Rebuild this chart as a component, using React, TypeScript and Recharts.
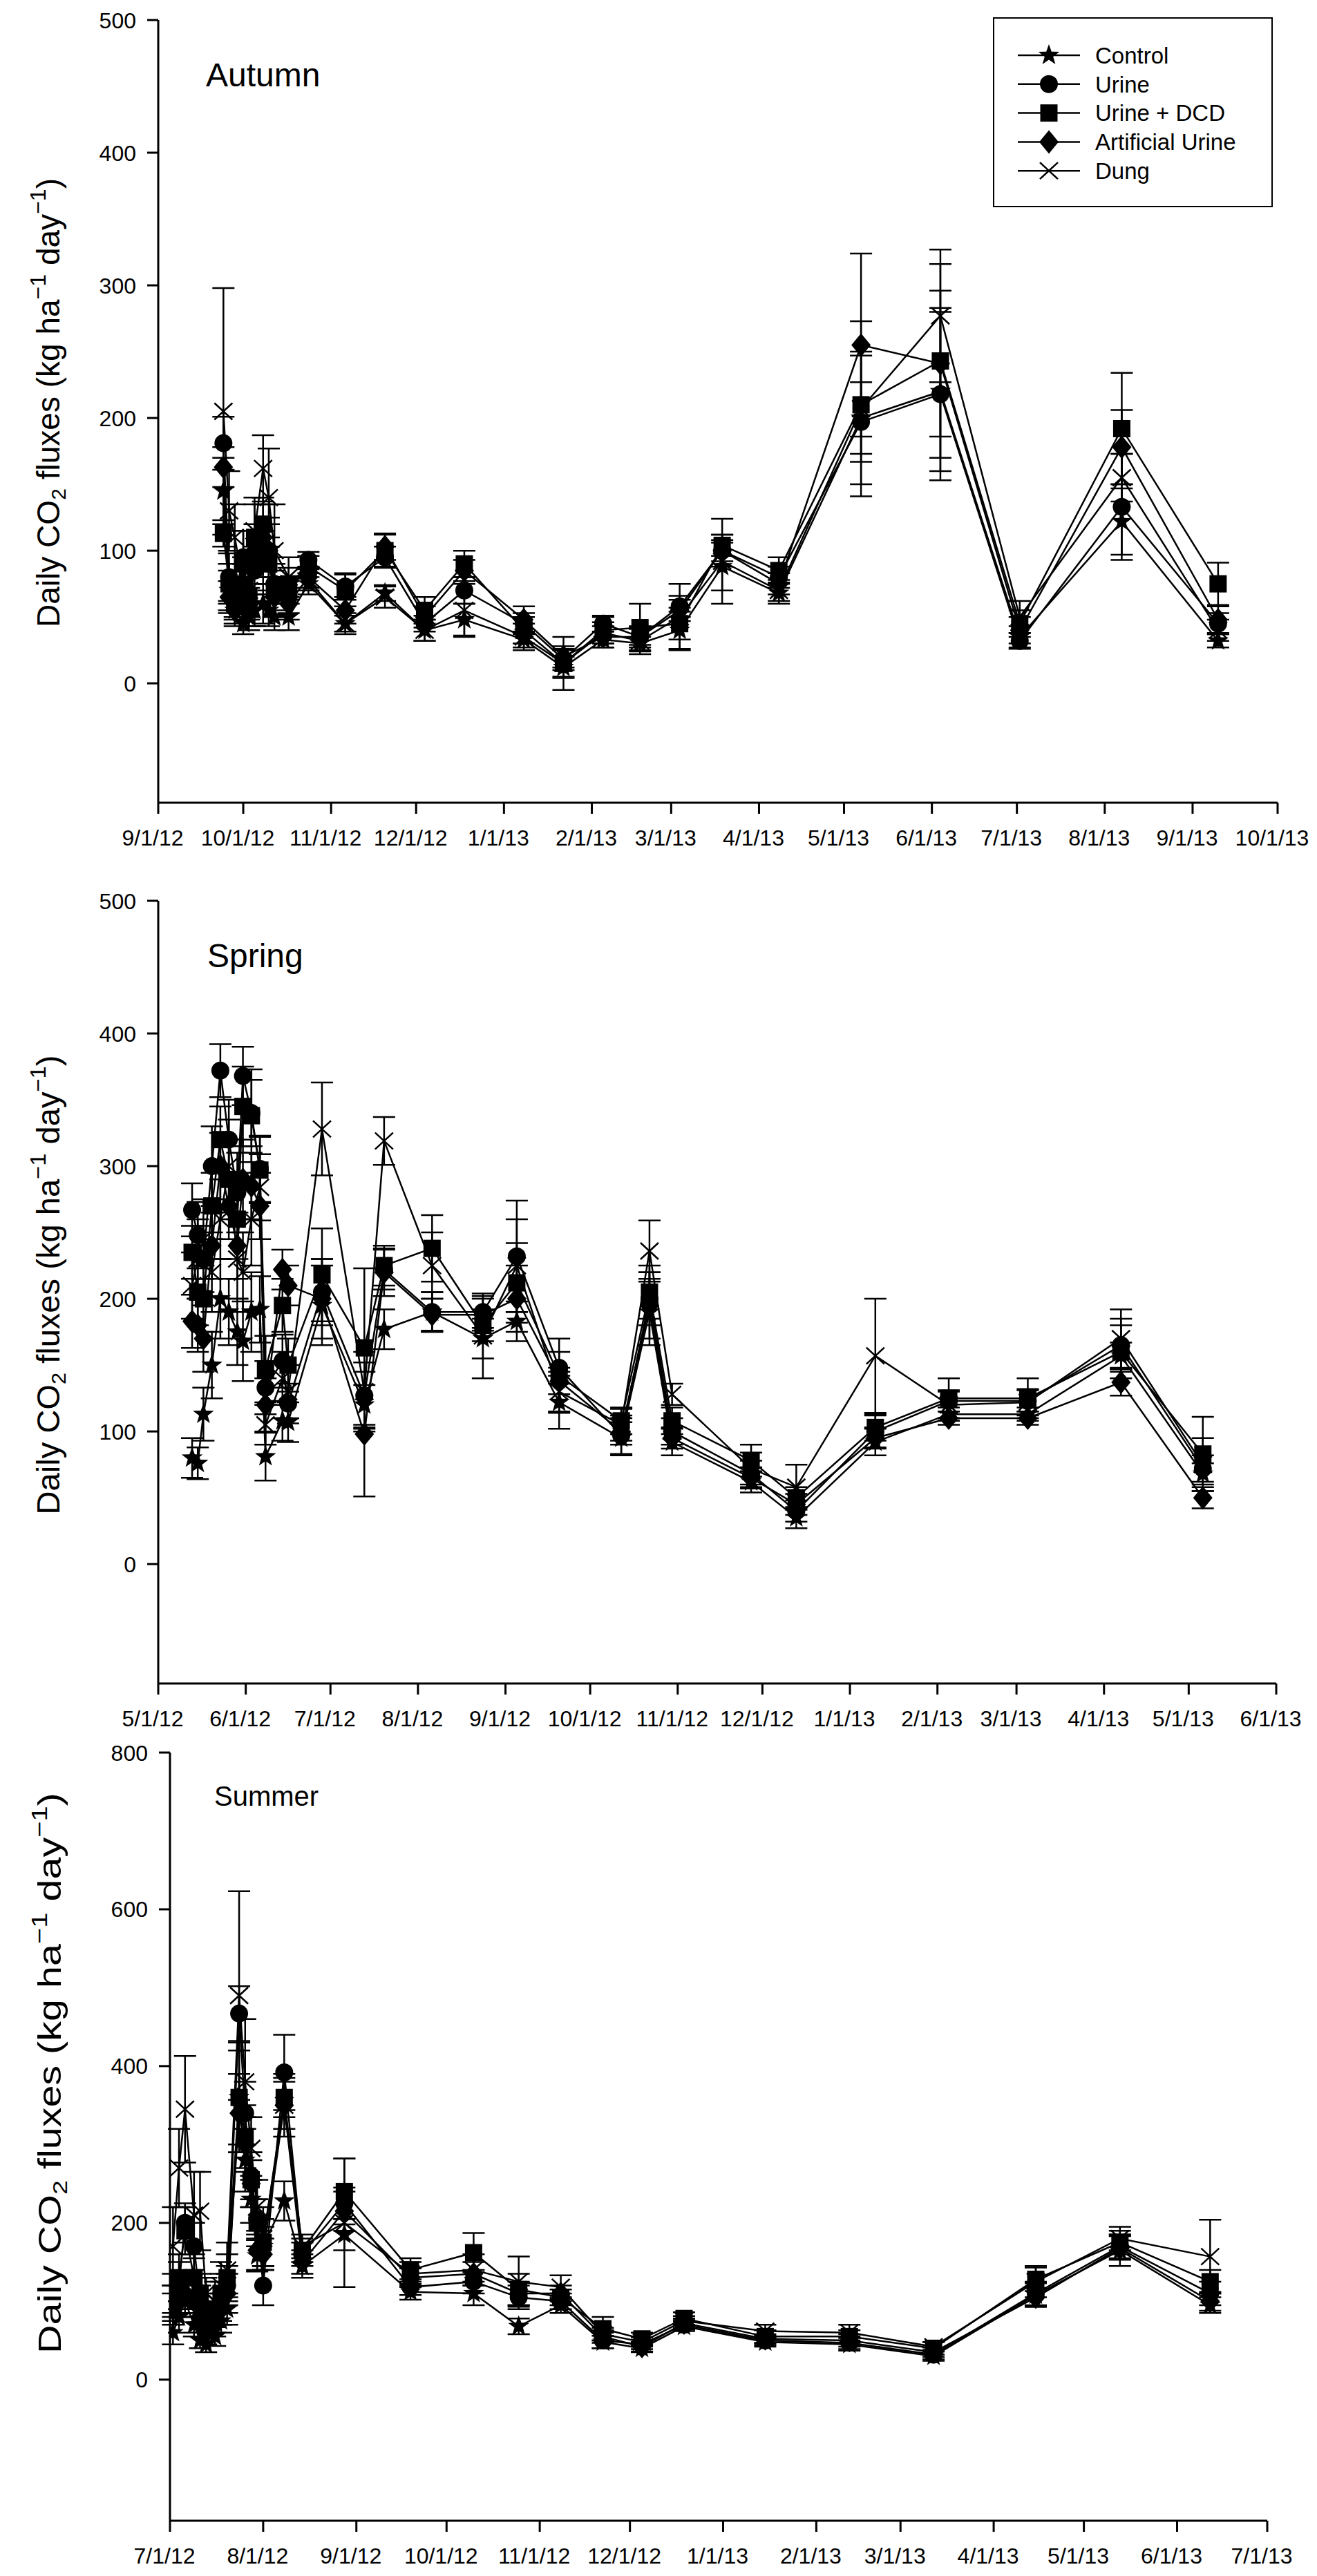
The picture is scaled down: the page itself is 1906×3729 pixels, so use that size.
import React from 'react';
import { LineChart, Line, XAxis, YAxis, ErrorBar, Legend } from 'recharts';

const FONT = '"Liberation Sans", Arial, Helvetica, sans-serif';

const seriesNames = ['Control', 'Urine', 'Urine + DCD', 'Artificial Urine', 'Dung'];
const seriesKeys = ['control', 'urine', 'dcd', 'artificial', 'dung'];
const markerKinds = ['star', 'circle', 'square', 'diamond', 'x'];

// ---------- Autumn ----------
const autumnTicks = ['9/1/12', '10/1/12', '11/1/12', '12/1/12', '1/1/13', '2/1/13', '3/1/13', '4/1/13', '5/1/13', '6/1/13', '7/1/13', '8/1/13', '9/1/13', '10/1/13'];
const autumnDates = ['9/24/12', '9/26/12', '9/28/12', '10/1/12', '10/3/12', '10/5/12', '10/8/12', '10/10/12', '10/12/12', '10/17/12', '10/24/12', '11/6/12', '11/20/12', '12/4/12', '12/18/12', '1/8/13', '1/22/13', '2/5/13', '2/18/13', '3/4/13', '3/19/13', '4/8/13', '5/7/13', '6/4/13', '7/2/13', '8/7/13', '9/10/13'];
const autumnControl = [145, 70, 55, 45, 50, 55, 60, 55, 50, 50, 75, 45, 68, 40, 48, 33, 12, 33, 30, 40, 88, 68, 200, 220, 35, 122, 32];
const autumnUrine = [181, 80, 65, 95, 60, 85, 95, 100, 75, 65, 93, 73, 95, 45, 70, 45, 18, 45, 35, 58, 100, 80, 197, 218, 32, 133, 45];
const autumnDcd = [113, 75, 60, 90, 65, 110, 120, 90, 70, 75, 88, 70, 100, 55, 90, 40, 15, 40, 42, 45, 104, 85, 210, 243, 45, 192, 75];
const autumnArtificial = [163, 65, 55, 75, 55, 100, 110, 100, 65, 60, 80, 55, 103, 50, 85, 48, 20, 35, 35, 55, 100, 75, 255, 241, 40, 178, 48];
const autumnDung = [205, 130, 110, 75, 70, 115, 162, 140, 100, 80, 78, 45, 65, 40, 55, 35, 15, 38, 32, 50, 92, 70, 207, 277, 50, 155, 40];
const autumnControlErr = [25, 15, 12, 8, 10, 12, 15, 12, 10, 10, 8, 8, 6, 8, 12, 6, 8, 6, 5, 14, 18, 8, 50, 60, 8, 25, 5];
const autumnUrineErr = [20, 18, 15, 20, 12, 18, 20, 25, 15, 12, 6, 10, 8, 6, 10, 8, 8, 6, 6, 8, 12, 8, 30, 65, 6, 40, 8];
const autumnDcdErr = [10, 15, 12, 25, 15, 25, 20, 20, 15, 12, 8, 12, 12, 10, 10, 10, 10, 10, 18, 12, 8, 10, 37, 73, 10, 42, 16];
const autumnArtificialErr = [15, 12, 10, 15, 12, 20, 25, 20, 15, 12, 8, 10, 10, 8, 8, 10, 8, 8, 8, 8, 8, 8, 69, 55, 10, 28, 10];
const autumnDungErr = [93, 30, 25, 20, 15, 25, 25, 37, 35, 15, 8, 6, 8, 8, 20, 10, 20, 8, 10, 25, 32, 8, 66, 50, 12, 18, 8];

// ---------- Spring ----------
const springTicks = ['5/1/12', '6/1/12', '7/1/12', '8/1/12', '9/1/12', '10/1/12', '11/1/12', '12/1/12', '1/1/13', '2/1/13', '3/1/13', '4/1/13', '5/1/13', '6/1/13'];
const springDates = ['5/13/12', '5/15/12', '5/17/12', '5/20/12', '5/23/12', '5/26/12', '5/29/12', '5/31/12', '6/3/12', '6/6/12', '6/8/12', '6/14/12', '6/16/12', '6/28/12', '7/13/12', '7/20/12', '8/6/12', '8/24/12', '9/5/12', '9/20/12', '10/12/12', '10/22/12', '10/30/12', '11/27/12', '12/13/12', '1/10/13', '2/5/13', '3/5/13', '4/7/13', '5/6/13'];
const springControl = [80, 76, 113, 150, 200, 190, 175, 168, 190, 192, 81, 108, 107, 195, 120, 177, 190, 170, 183, 122, 95, 190, 92, 62, 35, 92, 113, 113, 157, 68];
const springUrine = [267, 248, 230, 300, 372, 320, 280, 368, 340, 298, 133, 153, 121, 205, 127, 222, 190, 190, 232, 148, 97, 200, 100, 68, 40, 100, 123, 123, 165, 72];
const springDcd = [235, 205, 200, 270, 320, 290, 260, 345, 338, 297, 147, 195, 150, 218, 163, 225, 238, 180, 212, 142, 108, 205, 108, 78, 50, 103, 125, 125, 160, 83];
const springArtificial = [183, 180, 170, 240, 300, 270, 240, 290, 285, 270, 120, 222, 210, 200, 98, 220, 188, 188, 200, 138, 100, 195, 95, 65, 45, 95, 110, 110, 137, 50];
const springDung = [210, 230, 245, 220, 260, 300, 230, 220, 260, 284, 105, 140, 130, 328, 130, 319, 225, 172, 225, 130, 105, 236, 128, 72, 58, 157, 120, 122, 170, 75];
const springControlErr = [15, 12, 20, 25, 30, 25, 25, 30, 30, 25, 18, 15, 15, 30, 15, 15, 15, 15, 15, 20, 12, 25, 10, 8, 8, 10, 5, 5, 10, 8];
const springUrineErr = [20, 25, 25, 30, 20, 30, 30, 22, 25, 25, 20, 20, 15, 25, 25, 15, 15, 12, 42, 12, 15, 20, 10, 10, 8, 12, 8, 8, 20, 10];
const springDcdErr = [20, 25, 25, 25, 25, 30, 30, 30, 35, 25, 25, 20, 20, 35, 60, 15, 25, 12, 30, 28, 10, 20, 10, 12, 8, 10, 15, 15, 20, 28];
const springArtificialErr = [20, 20, 25, 25, 25, 25, 25, 30, 25, 25, 20, 15, 15, 30, 47, 18, 12, 12, 25, 10, 10, 25, 8, 8, 8, 8, 5, 5, 10, 8];
const springDungErr = [25, 30, 30, 30, 30, 35, 30, 30, 35, 25, 15, 20, 20, 35, 30, 18, 25, 32, 35, 15, 12, 23, 8, 12, 17, 43, 10, 10, 22, 20];

// ---------- Summer ----------
const summerTicks = ['7/1/12', '8/1/12', '9/1/12', '10/1/12', '11/1/12', '12/1/12', '1/1/13', '2/1/13', '3/1/13', '4/1/13', '5/1/13', '6/1/13', '7/1/13'];
const summerDates = ['7/2/12', '7/4/12', '7/6/12', '7/9/12', '7/11/12', '7/13/12', '7/16/12', '7/18/12', '7/20/12', '7/24/12', '7/26/12', '7/28/12', '7/30/12', '8/1/12', '8/8/12', '8/14/12', '8/28/12', '9/19/12', '10/10/12', '10/25/12', '11/8/12', '11/22/12', '12/5/12', '12/19/12', '1/15/13', '2/12/13', '3/12/13', '4/15/13', '5/13/13', '6/12/13'];
const summerControl = [60, 80, 100, 70, 50, 45, 55, 75, 90, 360, 280, 230, 158, 170, 228, 145, 185, 112, 110, 68, 95, 48, 40, 68, 48, 45, 30, 108, 165, 95];
const summerUrine = [100, 120, 200, 170, 100, 70, 80, 100, 120, 467, 340, 260, 205, 120, 392, 160, 225, 118, 125, 105, 100, 50, 45, 70, 50, 47, 32, 110, 170, 110];
const summerDcd = [110, 130, 190, 130, 110, 80, 90, 110, 130, 360, 310, 255, 200, 175, 360, 165, 240, 140, 162, 115, 105, 65, 52, 78, 55, 55, 40, 128, 175, 125];
const summerArtificial = [90, 100, 110, 100, 80, 60, 70, 90, 110, 340, 300, 250, 165, 160, 350, 150, 215, 130, 135, 110, 110, 55, 42, 72, 52, 50, 35, 105, 168, 100];
const summerDung = [170, 270, 345, 210, 215, 110, 100, 120, 140, 490, 380, 295, 220, 180, 350, 170, 200, 135, 140, 125, 118, 58, 48, 75, 62, 60, 42, 125, 180, 157];
const summerControlErr = [15, 20, 20, 15, 10, 10, 12, 15, 20, 60, 40, 30, 20, 25, 25, 15, 20, 10, 15, 10, 10, 8, 5, 6, 6, 8, 6, 15, 20, 10];
const summerUrineErr = [20, 30, 25, 30, 20, 15, 20, 25, 25, 35, 40, 30, 25, 25, 48, 15, 20, 10, 15, 15, 10, 10, 6, 6, 6, 8, 6, 15, 15, 15];
const summerDcdErr = [25, 30, 30, 30, 25, 20, 20, 25, 30, 70, 40, 35, 30, 30, 25, 15, 42, 15, 25, 20, 10, 15, 8, 8, 8, 8, 8, 15, 15, 15];
const summerArtificialErr = [20, 20, 20, 20, 20, 15, 15, 20, 25, 50, 35, 30, 25, 20, 30, 15, 25, 12, 15, 15, 10, 8, 6, 6, 6, 8, 6, 12, 15, 12];
const summerDungErr = [50, 50, 68, 55, 50, 20, 25, 30, 35, 133, 80, 40, 35, 40, 40, 15, 82, 15, 20, 32, 15, 8, 6, 6, 8, 10, 6, 20, 15, 47];

const yTicks500 = [0, 100, 200, 300, 400, 500];
const yTicks800 = [0, 200, 400, 600, 800];

const toMs = (s: string) => {
  const [m, d, y] = s.split('/').map(Number);
  return Date.UTC(2000 + y, m - 1, d);
};
const fmt = (v: number) => {
  const d = new Date(v);
  return `${d.getUTCMonth() + 1}/${d.getUTCDate()}/${String(d.getUTCFullYear()).slice(2)}`;
};

const buildRows = (dates: string[], vals: number[][], errs: number[][]) =>
  dates.map((ds, i) => {
    const row: any = { t: toMs(ds) };
    seriesKeys.forEach((k, j) => {
      row[k] = vals[j][i];
      row[k + 'Err'] = errs[j][i];
    });
    return row;
  });

function starPath(cx: number, cy: number, R: number, r: number) {
  let p = '';
  for (let i = 0; i < 10; i++) {
    const a = -Math.PI / 2 + (i * Math.PI) / 5;
    const rad = i % 2 === 0 ? R : r;
    p += (i === 0 ? 'M' : 'L') + (cx + rad * Math.cos(a)).toFixed(2) + ',' + (cy + rad * Math.sin(a)).toFixed(2);
  }
  return p + 'Z';
}

function Marker({ kind, cx, cy }: { kind: string; cx: number; cy: number }) {
  if (cx == null || cy == null || isNaN(cx) || isNaN(cy)) return null;
  switch (kind) {
    case 'star':
      return <path d={starPath(cx, cy, 16, 6.5)} fill="#000" />;
    case 'circle':
      return <circle cx={cx} cy={cy} r={13} fill="#000" />;
    case 'square':
      return <rect x={cx - 12.5} y={cy - 12.5} width={25} height={25} fill="#000" />;
    case 'diamond':
      return <path d={`M${cx},${cy - 17}L${cx + 14},${cy}L${cx},${cy + 17}L${cx - 14},${cy}Z`} fill="#000" />;
    default:
      return (
        <g stroke="#000" strokeWidth={2.5}>
          <line x1={cx - 13} y1={cy - 12} x2={cx + 13} y2={cy + 12} />
          <line x1={cx - 13} y1={cy + 12} x2={cx + 13} y2={cy - 12} />
        </g>
      );
  }
}

const LegendBox = () => (
  <svg width={405} height={275} style={{ display: 'block', overflow: 'visible' }}>
    <rect x={1} y={1} width={403} height={273} fill="#fff" stroke="#000" strokeWidth={2} />
    {seriesNames.map((n, i) => {
      const y = 55 + i * 41.8;
      return (
        <g key={n}>
          <line x1={36} x2={126} y1={y} y2={y} stroke="#000" strokeWidth={2.5} />
          <Marker kind={markerKinds[i]} cx={81} cy={y} />
          <text x={148} y={y} dy="0.36em" fontSize={33} fontFamily={FONT} fill="#000">
            {n}
          </text>
        </g>
      );
    })}
  </svg>
);

const XTick = (props: any) => {
  const { x, y, payload } = props;
  return (
    <text x={x - 8} y={y + 46} textAnchor="middle" fontSize={32} fontFamily={FONT} fill="#000">
      {fmt(payload.value)}
    </text>
  );
};

const YTick = (props: any) => {
  const { x, y, payload } = props;
  return (
    <text x={x} y={y} dy="0.36em" textAnchor="end" fontSize={32} fontFamily={FONT} fill="#000">
      {payload.value}
    </text>
  );
};

function PanelText({ tx, ty, len, season, sx, sy, sSize }: any) {
  return (
    <g>
      <text
        transform={`rotate(-90 ${tx} ${ty})`}
        x={tx}
        y={ty}
        textAnchor="middle"
        fontSize={46}
        fontFamily={FONT}
        fill="#000"
        textLength={len}
        lengthAdjust="spacingAndGlyphs"
      >
        Daily CO<tspan fontSize={30} dy={9}>2</tspan>
        <tspan dy={-9}> fluxes (kg ha</tspan>
        <tspan fontSize={32} dy={-20}>−1</tspan>
        <tspan dy={20}> day</tspan>
        <tspan fontSize={32} dy={-20}>−1</tspan>
        <tspan dy={20}>)</tspan>
      </text>
      <text x={sx} y={sy} fontSize={sSize} fontFamily={FONT} fill="#000">
        {season}
      </text>
    </g>
  );
}

function Panel(p: any) {
  const rows = buildRows(p.dates, p.vals, p.errs);
  const xDomain = [toMs(p.ticks[0]), toMs(p.ticks[p.ticks.length - 1])];
  const xTicks = p.ticks.map(toMs);
  const axisLine = { stroke: '#000', strokeWidth: 3 };
  return (
    <div style={{ position: 'absolute', left: 0, top: p.top, width: 1906, height: p.height }}>
      <LineChart width={1906} height={p.height} data={rows} margin={p.margin}>
        <XAxis
          dataKey="t"
          type="number"
          domain={xDomain}
          ticks={xTicks}
          interval={0}
          allowDataOverflow
          height={p.xH}
          tickSize={16}
          tickMargin={0}
          axisLine={axisLine}
          tickLine={{ stroke: '#000', strokeWidth: 3 }}
          tick={<XTick />}
        />
        <XAxis xAxisId="top" orientation="top" type="number" domain={xDomain} allowDataOverflow height={0} tick={false} tickLine={false} axisLine={axisLine} />
        <YAxis
          type="number"
          domain={p.yDomain}
          ticks={p.yTicks}
          interval={0}
          allowDataOverflow
          width={p.yW}
          tickSize={16}
          tickMargin={16}
          axisLine={axisLine}
          tickLine={{ stroke: '#000', strokeWidth: 3 }}
          tick={<YTick />}
          label={{ content: () => <PanelText {...p.text} /> }}
        />
        <YAxis yAxisId="right" orientation="right" type="number" domain={p.yDomain} allowDataOverflow width={0} tick={false} tickLine={false} axisLine={axisLine} />
        {p.legend && (
          <Legend
            layout="vertical"
            align="center"
            verticalAlign="middle"
            content={() => <LegendBox />}
            wrapperStyle={{ left: 1437, top: 25, width: 405, height: 275 }}
          />
        )}
        {seriesKeys.map((k, i) => (
          <Line
            key={k}
            name={seriesNames[i]}
            dataKey={k}
            type="linear"
            stroke="#000"
            strokeWidth={2.5}
            isAnimationActive={false}
            activeDot={false}
            dot={(dp: any) => (
              <g key={`${k}-${dp.index}`}>
                <Marker kind={markerKinds[i]} cx={dp.cx} cy={dp.cy} />
              </g>
            )}
          >
            <ErrorBar dataKey={k + 'Err'} width={16} stroke="#000" strokeWidth={2.5} direction="y" isAnimationActive={false} />
          </Line>
        ))}
      </LineChart>
    </div>
  );
}

export default function App() {
  return (
    <div style={{ position: 'absolute', left: 0, top: 0, width: 1906, height: 3729, background: '#fff', overflow: 'hidden' }}>
      <Panel
        top={0}
        height={1250}
        margin={{ top: 29, right: 57, bottom: 0, left: 0 }}
        yW={229}
        xH={88}
        dates={autumnDates}
        ticks={autumnTicks}
        vals={[autumnControl, autumnUrine, autumnDcd, autumnArtificial, autumnDung]}
        errs={[autumnControlErr, autumnUrineErr, autumnDcdErr, autumnArtificialErr, autumnDungErr]}
        yDomain={[-90, 500]}
        yTicks={yTicks500}
        legend
        text={{ tx: 86, ty: 583, len: 650, season: 'Autumn', sx: 298, sy: 125, sSize: 48 }}
      />
      <Panel
        top={1250}
        height={1290}
        margin={{ top: 54, right: 59, bottom: 0, left: 0 }}
        yW={229}
        xH={103}
        dates={springDates}
        ticks={springTicks}
        vals={[springControl, springUrine, springDcd, springArtificial, springDung]}
        errs={[springControlErr, springUrineErr, springDcdErr, springArtificialErr, springDungErr]}
        yDomain={[-90, 500]}
        yTicks={yTicks500}
        text={{ tx: 86, ty: 610, len: 665, season: 'Spring', sx: 300, sy: 150, sSize: 48 }}
      />
      <Panel
        top={2500}
        height={1229}
        margin={{ top: 37, right: 72, bottom: 0, left: 0 }}
        yW={246}
        xH={80}
        dates={summerDates}
        ticks={summerTicks}
        vals={[summerControl, summerUrine, summerDcd, summerArtificial, summerDung]}
        errs={[summerControlErr, summerUrineErr, summerDcdErr, summerArtificialErr, summerDungErr]}
        yDomain={[-180, 800]}
        yTicks={yTicks800}
        text={{ tx: 88, ty: 501, len: 812, season: 'Summer', sx: 310, sy: 114, sSize: 40 }}
      />
    </div>
  );
}
